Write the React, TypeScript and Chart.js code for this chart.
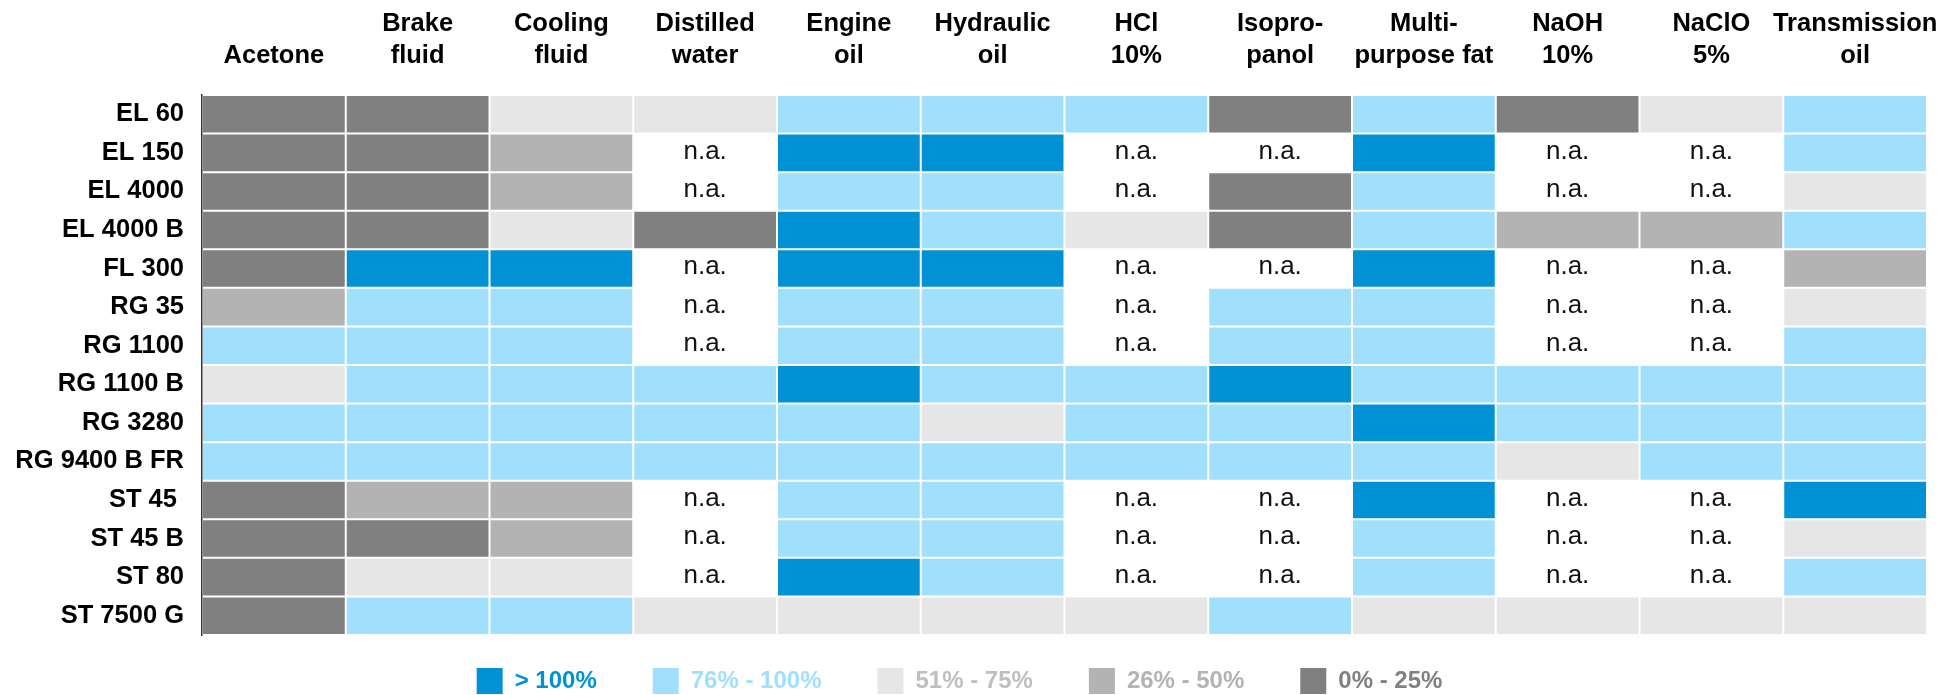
import React, { useEffect, useRef } from 'react';
import { Chart, registerables } from 'chart.js';

Chart.register(...registerables);

// ---- data -------------------------------------------------------------
const products = [
  'EL 60', 'EL 150', 'EL 4000', 'EL 4000 B', 'FL 300', 'RG 35', 'RG 1100',
  'RG 1100 B', 'RG 3280', 'RG 9400 B FR', 'ST 45 ', 'ST 45 B', 'ST 80', 'ST 7500 G',
];

const media = [
  'Acetone', ['Brake', 'fluid'], ['Cooling', 'fluid'], ['Distilled', 'water'],
  ['Engine', 'oil'], ['Hydraulic', 'oil'], ['HCl', '10%'], ['Isopro-', 'panol'],
  ['Multi-', 'purpose fat'], ['NaOH', '10%'], ['NaClO', '5%'], ['Transmission', 'oil'],
];

// rating level per product (same order as products):
// 4 = > 100%, 3 = 76% - 100%, 2 = 51% - 75%, 1 = 26% - 50%, 0 = 0% - 25%, null = n.a.
const acetone = [0, 0, 0, 0, 0, 1, 3, 2, 3, 3, 0, 0, 0, 0];
const brakeFluid = [0, 0, 0, 0, 4, 3, 3, 3, 3, 3, 1, 0, 2, 3];
const coolingFluid = [2, 1, 1, 2, 4, 3, 3, 3, 3, 3, 1, 1, 2, 3];
const distilledWater = [2, null, null, 0, null, null, null, 3, 3, 3, null, null, null, 2];
const engineOil = [3, 4, 3, 4, 4, 3, 3, 4, 3, 3, 3, 3, 4, 2];
const hydraulicOil = [3, 4, 3, 3, 4, 3, 3, 3, 2, 3, 3, 3, 3, 2];
const hcl10 = [3, null, null, 2, null, null, null, 3, 3, 3, null, null, null, 2];
const isopropanol = [0, null, 0, 0, null, 3, 3, 4, 3, 3, null, null, null, 3];
const multiPurposeFat = [3, 4, 3, 3, 4, 3, 3, 3, 4, 3, 4, 3, 3, 2];
const naoh10 = [0, null, null, 1, null, null, null, 3, 3, 2, null, null, null, 2];
const naclo5 = [2, null, null, 1, null, null, null, 3, 3, 3, null, null, null, 2];
const transmissionOil = [3, 3, 2, 3, 1, 2, 3, 3, 3, 3, 4, 2, 3, 2];

const ratingColumns: (number | null)[][] = [
  acetone, brakeFluid, coolingFluid, distilledWater, engineOil, hydraulicOil,
  hcl10, isopropanol, multiPurposeFat, naoh10, naclo5, transmissionOil,
];

const levelLabels = ['0% - 25%', '26% - 50%', '51% - 75%', '76% - 100%', '> 100%'];
const levelColors = ['#808080', '#B3B3B3', '#E6E6E6', '#A1E0FD', '#0092D4'];
const levelTextColors = ['#808080', '#B3B3B3', '#BFBFBF', '#A1E0FD', '#0092D4'];
const legendOrder = [4, 3, 2, 1, 0];
const NA_TEXT = 'n.a.';

const FONT = '"Liberation Sans", Arial, Helvetica, sans-serif';

// ---- plugins ----------------------------------------------------------
const naLabels = {
  id: 'naLabels',
  afterDatasetsDraw(chart: any) {
    const ctx = chart.ctx;
    ctx.save();
    ctx.font = `26px ${FONT}`;
    ctx.fillStyle = '#111111';
    ctx.textAlign = 'center';
    ctx.textBaseline = 'middle';
    ratingColumns.forEach((col, ci) => {
      const meta = chart.getDatasetMeta(ci);
      col.forEach((r, ri) => {
        if (r === null) {
          const p = meta.data[ri].getCenterPoint();
          ctx.fillText(NA_TEXT, p.x, p.y - 1.5);
        }
      });
    });
    ctx.restore();
  },
};

const legendPlacement = {
  id: 'legendPlacement',
  afterLayout(chart: any) {
    const lg = chart.legend;
    if (lg) {
      lg.top -= 23;
      lg.bottom -= 23;
      lg.left -= 8;
      lg.right -= 8;
    }
  },
};

export default function App() {
  const ref = useRef<HTMLCanvasElement | null>(null);

  useEffect(() => {
    if (!ref.current) return;
    Chart.defaults.font.family = FONT;

    const datasets = ratingColumns.map((col, ci) => ({
      label: Array.isArray(media[ci]) ? (media[ci] as string[]).join(' ') : (media[ci] as string),
      data: products.map(() => 1),
      backgroundColor: col.map((r) => (r === null ? '#FFFFFF' : levelColors[r])),
      borderColor: '#FFFFFF',
      borderWidth: 1,
      borderSkipped: false,
      inflateAmount: 0,
      barPercentage: 1,
      categoryPercentage: 1,
      xAxisID: 'x',
      yAxisID: 'y',
    }));

    const chart = new Chart(ref.current, {
      type: 'bar',
      data: { labels: products, datasets },
      options: {
        indexAxis: 'y',
        responsive: false,
        animation: false,
        events: [],
        layout: { padding: { left: 0, right: 20, top: 0, bottom: 0 } },
        scales: {
          x: { type: 'linear', stacked: true, min: 0, max: 12, display: false },
          x2: {
            type: 'category',
            position: 'top',
            labels: media as any,
            offset: true,
            grid: { display: false, drawTicks: false },
            border: { display: false },
            ticks: {
              autoSkip: false,
              maxRotation: 0,
              minRotation: 0,
              padding: 23,
              color: '#000000',
              font: { size: 25.5, weight: 'bold', lineHeight: 1.25 },
            },
            afterFit: (s: any) => {
              s.height = 87;
              s.paddingLeft = 0;
              s.paddingRight = 0;
            },
          },
          y: {
            type: 'category',
            stacked: true,
            offset: true,
            grid: { display: false, drawTicks: false },
            border: { display: true, color: '#333333', width: 1.5, z: 1 },
            ticks: {
              autoSkip: false,
              padding: 18,
              color: '#000000',
              font: { size: 25.5, weight: 'bold' },
            },
            afterFit: (s: any) => {
              s.width = 194;
              s.paddingTop = 0;
              s.paddingBottom = 0;
            },
          },
        } as any,
        plugins: {
          tooltip: { enabled: false },
          legend: {
            position: 'bottom',
            onClick: () => {},
            labels: {
              boxWidth: 26,
              boxHeight: 26,
              padding: 56,
              font: { size: 24, weight: 'bold' },
              generateLabels: () =>
                legendOrder.map((lvl, i) => ({
                  text: levelLabels[lvl],
                  fillStyle: levelColors[lvl],
                  strokeStyle: levelColors[lvl],
                  fontColor: levelTextColors[lvl],
                  lineWidth: 0,
                  hidden: false,
                  index: i,
                  datasetIndex: -1,
                })) as any,
            },
          },
        },
      },
      plugins: [naLabels, legendPlacement],
    });

    return () => chart.destroy();
  }, []);

  return (
    <div
      style={{
        position: 'fixed',
        left: 0,
        top: 0,
        width: 1955,
        height: 695,
        overflow: 'hidden',
        background: '#ffffff',
      }}
    >
      <canvas
        ref={ref}
        width={1939}
        height={719}
        style={{ position: 'absolute', left: 8, top: 8, width: 1939, height: 719 }}
      />
    </div>
  );
}
